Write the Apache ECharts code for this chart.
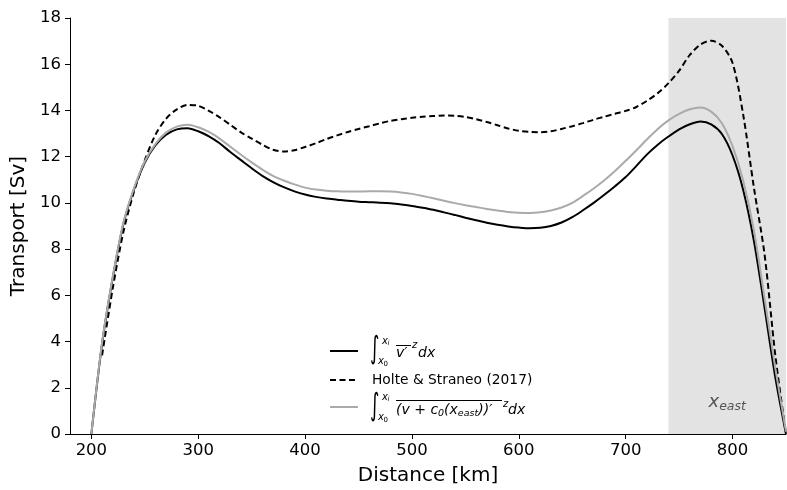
<!DOCTYPE html>
<html>
<head>
<meta charset="utf-8">
<script src="https://cdn.jsdelivr.net/npm/echarts@6/dist/echarts.min.js"></script>
<style>
html,body{margin:0;padding:0;background:#fff;}
#chart{width:787px;height:490px;}
</style>
</head>
<body>
<div id="chart"></div>
<script>
// ---- data ----
const distance = [200,210,220,230,240,250,260,270,280,290,300,310,320,330,340,350,360,370,380,390,400,410,420,430,440,450,460,470,480,490,500,510,520,530,540,550,560,570,580,590,600,610,620,630,640,650,660,670,680,690,700,710,720,730,740,750,760,770,780,790,800,810,820,830,840,850];
const transportVZ = [0,3.9,6.75,9.1,10.6,11.75,12.5,12.95,13.18,13.23,13.1,12.88,12.58,12.2,11.85,11.5,11.17,10.9,10.68,10.5,10.36,10.26,10.19,10.14,10.09,10.05,10.03,10.01,9.98,9.93,9.87,9.79,9.7,9.59,9.48,9.36,9.25,9.14,9.05,8.98,8.93,8.9,8.92,9.0,9.15,9.38,9.68,10.0,10.35,10.72,11.12,11.6,12.1,12.52,12.87,13.18,13.4,13.52,13.4,12.98,12.05,10.55,8.35,5.45,2.45,0];
const holteStraneo = [null,3.4,6.3,8.75,10.5,11.85,12.95,13.65,14.05,14.24,14.2,13.98,13.7,13.38,13.05,12.78,12.52,12.3,12.22,12.28,12.42,12.58,12.76,12.92,13.07,13.2,13.32,13.44,13.55,13.62,13.68,13.73,13.76,13.78,13.77,13.72,13.62,13.5,13.36,13.22,13.12,13.07,13.06,13.1,13.2,13.32,13.45,13.6,13.73,13.86,13.98,14.15,14.42,14.75,15.18,15.72,16.4,16.85,17.02,16.8,16.05,13.8,10.65,7.75,3.4,0];
const transportC0 = [0,3.95,6.8,9.15,10.65,11.8,12.55,13.05,13.3,13.38,13.27,13.07,12.78,12.43,12.08,11.75,11.44,11.17,10.97,10.8,10.66,10.58,10.53,10.5,10.49,10.49,10.5,10.5,10.49,10.45,10.39,10.3,10.2,10.09,9.99,9.9,9.82,9.74,9.67,9.61,9.57,9.56,9.59,9.67,9.8,10.0,10.3,10.62,10.98,11.38,11.82,12.28,12.75,13.2,13.57,13.85,14.05,14.13,13.95,13.45,12.45,10.95,8.8,5.85,2.85,0.1];
const eastRegion = [740, 850];
const xTicks = [200,300,400,500,600,700,800];
const yTicks = [0,2,4,6,8,10,12,14,16,18];
const xRange = [180, 850];
const yRange = [0, 18];

const FONT = 'DejaVu Sans';
const pairs = arr => distance.map((d,i)=>[d, arr[i]]);

const chart = echarts.init(document.getElementById('chart'), null, {renderer:'canvas'});

// legend drawn as graphic pieces
function txt(x, y, text, size, italic, extra) {
  return Object.assign({
    type:'text', x:x, y:y, z:100,
    style:{text:text, fontFamily:FONT, fontSize:size, fontStyle: italic?'italic':'normal', fill:'#000', verticalAlign:'middle', align:'left'}
  }, extra||{});
}
function ln(x1,y1,x2,y2,color,w,dash){
  return {type:'line', z:100, shape:{x1:x1,y1:y1,x2:x2,y2:y2}, style:{stroke:color, lineWidth:w, lineDash:dash||null}};
}
const graphic = [
  ln(330,351,358,351,'#000',2),
  ln(330,380,358,380,'#000',2,[6,3.5]),
  ln(330,407,358,407,'#aaaaaa',2),
  // row 1
  txt(370,350,'∫',18,false,{scaleY:1.7}),
  txt(382,341,'x',10,true), txt(387.5,343.5,'i',7,true),
  txt(378,361,'x',10,true), txt(383.5,364,'0',7,false),
  txt(396,353,'v′',14,true),
  ln(396,345.5,411,345.5,'#000',1),
  txt(412,345,'z',10,true),
  txt(418,353,'dx',14,true),
  // row 2
  txt(372,380,'Holte & Straneo (2017)',13.8,false),
  // row 3
  txt(370,407,'∫',18,false,{scaleY:1.7}),
  txt(382,397,'x',10,true), txt(387.5,399.5,'i',7,true),
  txt(378,417,'x',10,true), txt(383.5,420,'0',7,false),
  {type:'text', x:396, y:410, z:100, style:{
     text:'{a|(v + c}{b|0}{a|(x}{b|east}{a|))′}',
     verticalAlign:'middle', align:'left',
     rich:{
       a:{fontFamily:FONT, fontSize:14, fontStyle:'italic', fill:'#000', lineHeight:18, verticalAlign:'middle'},
       b:{fontFamily:FONT, fontSize:9.5, fontStyle:'italic', fill:'#000', lineHeight:9, verticalAlign:'bottom'}
     }}},
  ln(396,400.5,502,400.5,'#000',1),
  txt(503,404,'z',10,true),
  txt(508,410,'dx',14,true)
];

const option = {
  backgroundColor:'#fff',
  animation:false,
  grid:{left:70, right:1, top:18, bottom:56, containLabel:false, outerBoundsMode:'none'},
  xAxis:{
    type:'value', min:xRange[0], max:xRange[1],
    name:'Distance [km]', nameLocation:'middle', nameGap:32,
    nameTextStyle:{fontFamily:FONT, fontSize:20, color:'#000'},
    axisLine:{show:true, onZero:false, lineStyle:{color:'#000', width:1}},
    axisTick:{show:true, inside:false, length:5, customValues:xTicks, lineStyle:{color:'#000', width:1}},
    axisLabel:{customValues:xTicks, fontFamily:FONT, fontSize:16.5, color:'#000', margin:8},
    splitLine:{show:false}
  },
  yAxis:{
    type:'value', min:yRange[0], max:yRange[1], interval:2,
    name:'Transport [Sv]', nameLocation:'middle', nameGap:38, nameRotate:90,
    nameTextStyle:{fontFamily:FONT, fontSize:20, color:'#000'},
    axisLine:{show:true, lineStyle:{color:'#000', width:1}},
    axisTick:{show:true, inside:false, length:5, lineStyle:{color:'#000', width:1}},
    axisLabel:{fontFamily:FONT, fontSize:16.5, color:'#000', margin:9},
    splitLine:{show:false}
  },
  series:[
    {
      type:'line', data:[], silent:true, z:1,
      markArea:{
        silent:true,
        itemStyle:{color:'#e3e3e3'},
        label:{show:true, position:'insideBottom', distance:21,
          formatter:'{x|x}{s|east}',
          rich:{
            x:{fontFamily:FONT, fontSize:18, fontStyle:'italic', color:'#555', lineHeight:22, verticalAlign:'middle'},
            s:{fontFamily:FONT, fontSize:12.5, fontStyle:'italic', color:'#555', lineHeight:12, verticalAlign:'bottom'}
          }},
        data:[[{xAxis:eastRegion[0]},{xAxis:eastRegion[1]}]]
      }
    },
    {name:'vz', type:'line', data:pairs(transportVZ), showSymbol:false, smooth:0.3, z:3,
     lineStyle:{color:'#000', width:2}},
    {name:'Holte & Straneo (2017)', type:'line', data:pairs(holteStraneo), showSymbol:false, smooth:0.3, z:3, connectNulls:false,
     lineStyle:{color:'#000', width:2, type:[6,3.5]}},
    {name:'c0', type:'line', data:pairs(transportC0), showSymbol:false, smooth:0.3, z:3,
     lineStyle:{color:'#aaaaaa', width:2}}
  ],
  graphic: graphic
};
chart.setOption(option);
</script>
</body>
</html>
